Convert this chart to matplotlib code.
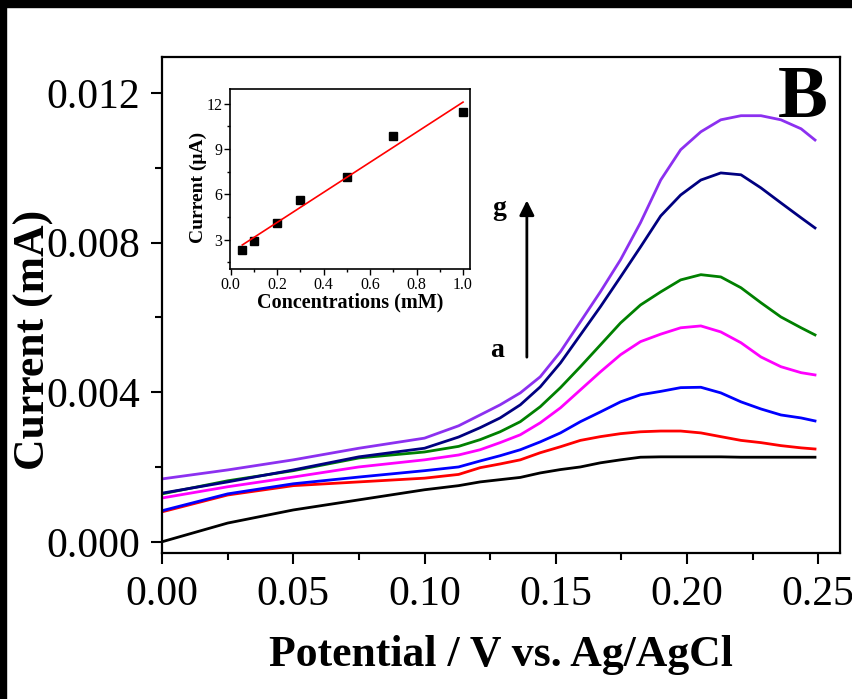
import numpy as np
import matplotlib
matplotlib.use('Agg')
import matplotlib.pyplot as plt
from matplotlib.patches import Rectangle
from matplotlib.ticker import MultipleLocator

plt.rcParams['font.family'] = ['Liberation Serif', 'DejaVu Serif']

# DPV curves a..g
potential = [0, 0.025, 0.05, 0.075, 0.1, 0.113, 0.1212, 0.1288, 0.1365, 0.1441,
             0.1518, 0.1594, 0.1670, 0.1747, 0.1823, 0.1900, 0.1976, 0.2053,
             0.2129, 0.2206, 0.2282, 0.2358, 0.2435, 0.2488]
cur_a = [0.0, 0.0005, 0.00085, 0.00112, 0.00139, 0.0015, 0.0016, 0.00166, 0.00172, 0.00184,
         0.00193, 0.002, 0.00211, 0.00219, 0.00226, 0.00227, 0.00227, 0.00227,
         0.00227, 0.00226, 0.00226, 0.00226, 0.00226, 0.00226]
cur_b = [0.0008, 0.00125, 0.0015, 0.0016, 0.0017, 0.0018, 0.00198, 0.00208, 0.00219, 0.00238,
         0.00254, 0.00271, 0.00281, 0.00289, 0.00294, 0.00296, 0.00296, 0.00291,
         0.00281, 0.00271, 0.00265, 0.00257, 0.00251, 0.00248]
cur_c = [0.00083, 0.00128, 0.00155, 0.00173, 0.0019, 0.002, 0.00216, 0.0023, 0.00246, 0.00267,
         0.00291, 0.00321, 0.00347, 0.00374, 0.00393, 0.00402, 0.00412, 0.00413,
         0.00398, 0.00374, 0.00355, 0.00339, 0.00331, 0.00323]
cur_d = [0.00117, 0.00147, 0.00173, 0.002, 0.00219, 0.00232, 0.00246, 0.00265, 0.00286, 0.00318,
         0.00358, 0.00406, 0.00454, 0.005, 0.00535, 0.00555, 0.00572, 0.00577,
         0.00561, 0.00532, 0.00494, 0.00468, 0.00452, 0.00446]
cur_e = [0.00128, 0.00163, 0.0019, 0.00224, 0.0024, 0.00255, 0.00273, 0.00294, 0.00321, 0.00361,
         0.00412, 0.00468, 0.00526, 0.00585, 0.00633, 0.00668, 0.007, 0.00714,
         0.00708, 0.00679, 0.00639, 0.00601, 0.00572, 0.00553]
cur_f = [0.0013, 0.0016, 0.00192, 0.00227, 0.0025, 0.0028, 0.00305, 0.00331, 0.00366, 0.00414,
         0.00478, 0.00553, 0.00628, 0.00708, 0.00788, 0.00871, 0.00927, 0.00967,
         0.00986, 0.00981, 0.00946, 0.00906, 0.00866, 0.00839]
cur_g = [0.00168, 0.00192, 0.00219, 0.0025, 0.00277, 0.0031, 0.00339, 0.00366, 0.00398, 0.00441,
         0.00508, 0.00588, 0.00668, 0.00754, 0.00853, 0.00967, 0.01048, 0.01096,
         0.01128, 0.01139, 0.01139, 0.01128, 0.01104, 0.01074]
curves = [cur_a, cur_b, cur_c, cur_d, cur_e, cur_f, cur_g]
colors = ['black', 'red', 'blue', '#FF00FF', '#008000', '#000080', '#8C30F0']

# inset calibration
conc = [0.05, 0.1, 0.2, 0.3, 0.5, 0.7, 1.0]
peak = [2.29, 2.89, 4.1, 5.65, 7.15, 9.88, 11.45]

fig = plt.figure(figsize=(8.53, 6.99), dpi=100)
ax = fig.add_axes([0.19, 0.2089, 0.795, 0.7096])

for y, c in zip(curves, colors):
    ax.plot(potential, y, color=c, lw=2.0, solid_joinstyle='round')

ax.set_xlim(0, 0.2584)
ax.set_ylim(-0.0003, 0.01296)
ax.xaxis.set_minor_locator(MultipleLocator(0.025))
ax.yaxis.set_minor_locator(MultipleLocator(0.002))
ax.set_xticks([0, 0.05, 0.10, 0.15, 0.20, 0.25])
ax.set_xticklabels(['0.00', '0.05', '0.10', '0.15', '0.20', '0.25'])
ax.set_yticks([0, 0.004, 0.008, 0.012])
ax.set_yticklabels(['0.000', '0.004', '0.008', '0.012'])
ax.tick_params(which='both', direction='out', width=1.5, labelsize=30)
ax.tick_params(which='major', length=8, pad=8)
ax.tick_params(which='minor', length=5)
for s in ax.spines.values():
    s.set_linewidth(1.6)

ax.set_xlabel('Potential / V vs. Ag/AgCl', fontsize=31.5, fontweight='bold')
ax.set_ylabel('Current (mA)', fontsize=31.5, fontweight='bold')
ax.xaxis.set_label_coords(0.5, -0.165)
ax.yaxis.set_label_coords(-0.16, 0.43)

ax.text(0.981, 0.984, 'B', transform=ax.transAxes, ha='right', va='top',
        fontsize=54, fontweight='bold')
ax.annotate('', xy=(0.139, 0.0092), xytext=(0.139, 0.00486),
            arrowprops=dict(arrowstyle='-|>', color='black', lw=2, mutation_scale=22))
ax.text(0.1285, 0.0089, 'g', ha='center', va='center', fontsize=20, fontweight='bold')
ax.text(0.1277, 0.0051, 'a', ha='center', va='center', fontsize=20, fontweight='bold')

# inset
ins = fig.add_axes([0.2696, 0.6152, 0.2814, 0.2575])
ins.plot(conc, peak, 's', color='black', ms=6)
k, b = np.polyfit(conc, peak, 1)
fx = np.array([conc[0], conc[-1]])
ins.plot(fx, k * fx + b, color='red', lw=1.2)
ins.set_xlim(-0.003, 1.03)
ins.set_ylim(1.06, 12.97)
ins.xaxis.set_major_locator(MultipleLocator(0.2))
ins.xaxis.set_minor_locator(MultipleLocator(0.1))
ins.yaxis.set_major_locator(MultipleLocator(3))
ins.yaxis.set_minor_locator(MultipleLocator(1.5))
ins.tick_params(which='both', direction='out', width=1, labelsize=11.5, pad=1.5)
ins.tick_params(which='major', length=4)
ins.tick_params(which='minor', length=2.5)
for s in ins.spines.values():
    s.set_linewidth(1.2)
ins.set_xlabel('Concentrations (mM)', fontsize=14.5, fontweight='bold')
ins.set_ylabel('Current (μA)', fontsize=14, fontweight='bold')
ins.xaxis.set_label_coords(0.5, -0.13)
ins.yaxis.set_label_coords(-0.095, 0.455)

# black border strips at top and left of the original image
fig.patches.append(Rectangle((0, 1 - 7 / 699), 1, 7 / 699, transform=fig.transFigure,
                             color='black', zorder=10))
fig.patches.append(Rectangle((0, 0), 6 / 853, 1, transform=fig.transFigure,
                             color='black', zorder=10))

fig.savefig('out.png', dpi=100)
